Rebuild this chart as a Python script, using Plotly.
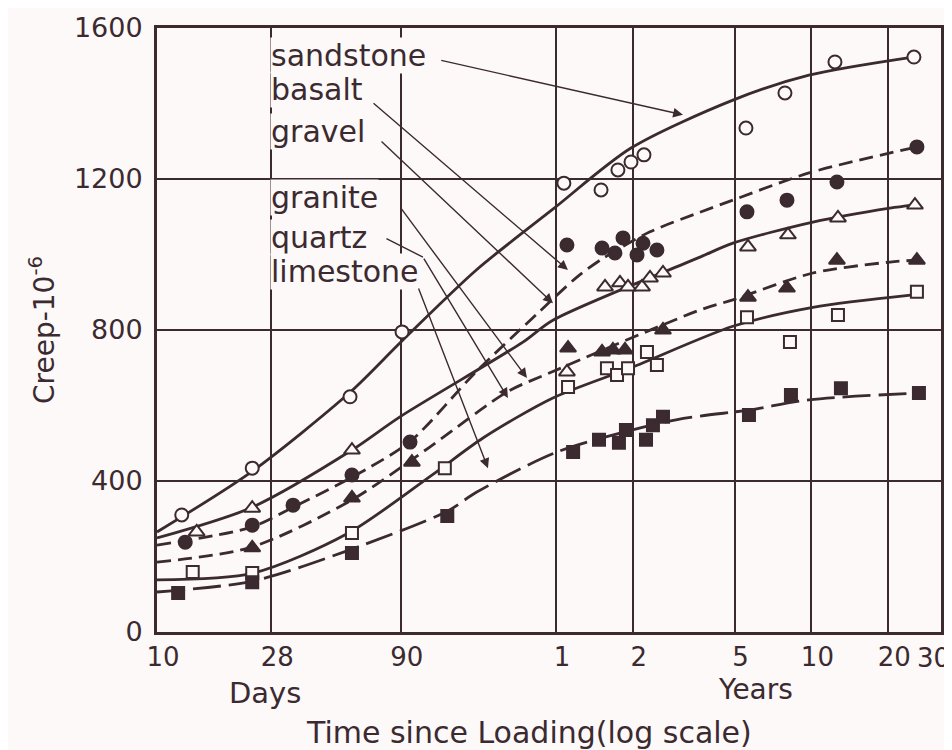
import math
import plotly.graph_objects as go

INK = "#3b2a30"
BG = "#fdf9f9"
FONT = "DejaVu Sans"

# ---------------- data (x = days since loading, y = creep x 10^-6) ----------------
sandstone_days = [12.5, 23.6, 57.0, 91.1, 392, 548, 638, 718, 807, 2024, 2877, 4516, 9204]
sandstone_creep = [310, 434, 623, 795, 1189, 1171, 1224, 1245, 1264, 1335, 1428, 1510, 1523]
sandstone_fit_days = [10, 23.5, 57, 91, 178, 355, 718, 1800, 3572, 9120]
sandstone_fit_creep = [265, 425, 635, 771, 959, 1120, 1282, 1409, 1475, 1523]

basalt_days = [12.9, 23.6, 34.1, 58.0, 97.9, 403, 553, 621, 668, 758, 800, 907, 2043, 2930, 4598, 9456]
basalt_creep = [238, 283, 336, 416, 503, 1025, 1017, 1004, 1044, 999, 1030, 1012, 1113, 1144, 1192, 1285]
basalt_fit_days = [10, 23.5, 34, 58, 98, 178, 316, 441, 558, 852, 1337, 1800, 3572, 9456]
basalt_fit_creep = [230, 278, 330, 410, 505, 690, 850, 940, 990, 1060, 1112, 1144, 1216, 1285]

gravel_days = [14.3, 23.6, 58.0, 403, 568, 650, 699, 793, 852, 958, 2061, 2956, 4640, 9290]
gravel_creep = [265, 328, 482, 689, 914, 925, 914, 914, 938, 951, 1020, 1052, 1097, 1131]
gravel_fit_days = [10, 23.5, 58, 89.4, 271, 355, 1337, 1800, 3703, 7413, 9120]
gravel_fit_creep = [249, 330, 482, 570, 768, 826, 993, 1030, 1086, 1123, 1131]

granite_days = [23.6, 58.0, 99.6, 407, 553, 610, 680, 958, 2061, 2930, 4598, 9456]
granite_creep = [223, 355, 450, 752, 742, 747, 747, 800, 887, 911, 985, 985]
granite_fit_days = [10, 23.5, 58, 117, 235, 355, 1337, 1800, 3703, 7413, 9456]
granite_fit_creep = [185, 225, 350, 490, 636, 690, 853, 880, 951, 980, 985]

quartz_days = [13.8, 23.6, 58.0, 134, 407, 578, 633, 699, 829, 907, 2043, 3010, 4640, 9456]
quartz_creep = [159, 156, 262, 434, 649, 699, 681, 699, 742, 707, 834, 768, 840, 901]
quartz_fit_days = [10, 23.8, 55.5, 120, 189, 355, 718, 1800, 3703, 9120]
quartz_fit_creep = [138, 156, 260, 417, 514, 620, 700, 810, 860, 893]

limestone_days = [12.1, 23.6, 58.0, 137, 426, 538, 644, 686, 822, 875, 958, 2080, 3037, 4766, 9629]
limestone_creep = [103, 132, 209, 307, 477, 509, 501, 535, 509, 548, 570, 575, 628, 646, 633]
limestone_fit_days = [10, 23.8, 55.5, 137, 178, 372, 1077, 2080, 3572, 9629]
limestone_fit_creep = [106, 135, 215, 320, 370, 478, 562, 588, 615, 633]

# tick labels
x_tick_days = [10, 28, 90, 365, 730, 1826, 3652, 7305]
x_tick_text = ["10", "28", "90", "1", "2", "5", "10", "20"]
x_edge_tick_days = 10957
x_edge_tick_text = "30"
y_tick_vals = [0, 400, 800, 1200, 1600]
y_tick_text = ["0", "400", "800", "1200", "1600"]

# curve labels and their leader arrows
label_names = ["sandstone", "basalt", "gravel", "granite", "quartz", "limestone"]
label_days = [27.7, 27.7, 27.7, 27.7, 27.7, 27.7]
label_creep = [1526, 1436, 1327, 1150, 1046, 954]
arrow_tail_days = [128, 69.5, 74.7, 89.4, 110, 105.2]
arrow_tail_creep = [1515, 1404, 1303, 1126, 993, 914]
arrow_head_days = [1147, 406.6, 355.2, 281, 236.7, 197.7]
arrow_head_creep = [1370, 959, 871, 673, 620, 434]
quartz_leader_days = [78.1, 110]
quartz_leader_creep = [1044, 993]

# ---------------- figure ----------------
series = [
    ("sandstone", sandstone_days, sandstone_creep, sandstone_fit_days, sandstone_fit_creep,
     "solid", "circle", BG, 13),
    ("basalt", basalt_days, basalt_creep, basalt_fit_days, basalt_fit_creep,
     "14px,7px", "circle", INK, 13),
    ("gravel", gravel_days, gravel_creep, gravel_fit_days, gravel_fit_creep,
     "solid", "triangle-up", BG, 14),
    ("granite", granite_days, granite_creep, granite_fit_days, granite_fit_creep,
     "14px,7px", "triangle-up", INK, 14),
    ("quartz", quartz_days, quartz_creep, quartz_fit_days, quartz_fit_creep,
     "solid", "square", BG, 12),
    ("limestone", limestone_days, limestone_creep, limestone_fit_days, limestone_fit_creep,
     "28px,8px", "square", INK, 12),
]

fig = go.Figure()
for name, d, c, fd, fc, dash, sym, fill, size in series:
    fig.add_trace(go.Scatter(
        x=fd, y=fc, mode="lines", name=name + " trend", showlegend=False,
        line=dict(color=INK, width=2.8, dash=dash, shape="spline", smoothing=0.8),
        hoverinfo="skip",
    ))
for name, d, c, fd, fc, dash, sym, fill, size in series:
    fig.add_trace(go.Scatter(
        x=d, y=c, mode="markers", name=name, showlegend=False,
        marker=dict(symbol=sym, size=size, color=fill, line=dict(color=INK, width=2)),
    ))

annotations = []
for name, ld, lc in zip(label_names, label_days, label_creep):
    annotations.append(dict(
        x=math.log10(ld), y=lc, xref="x", yref="y", text=name, showarrow=False,
        xanchor="left", yanchor="middle", bgcolor=BG, borderpad=0,
        font=dict(family=FONT, size=30, color=INK),
    ))
for td, tc, hd, hc in zip(arrow_tail_days, arrow_tail_creep, arrow_head_days, arrow_head_creep):
    annotations.append(dict(
        x=math.log10(hd), y=hc, ax=math.log10(td), ay=tc, xref="x", yref="y",
        axref="x", ayref="y", text="", showarrow=True, arrowhead=2, arrowsize=1.4,
        arrowwidth=1.4, arrowcolor=INK, standoff=0, startstandoff=0,
    ))
annotations.append(dict(
    x=math.log10(quartz_leader_days[1]), y=quartz_leader_creep[1],
    ax=math.log10(quartz_leader_days[0]), ay=quartz_leader_creep[0],
    xref="x", yref="y", axref="x", ayref="y", text="", showarrow=True,
    arrowhead=0, arrowwidth=1.4, arrowcolor=INK, standoff=0,
))
annotations.append(dict(
    x=math.log10(x_edge_tick_days), y=0, xref="x", yref="paper",
    xanchor="center", yanchor="top", yshift=-9, xshift=0,
    text=x_edge_tick_text, showarrow=False,
    font=dict(family=FONT, size=26, color=INK),
))
annotations.append(dict(x=0.1378, y=-0.101, xref="paper", yref="paper", text="Days",
                        xanchor="center", yanchor="middle", showarrow=False,
                        font=dict(family=FONT, size=29, color=INK)))
annotations.append(dict(x=0.7628, y=-0.095, xref="paper", yref="paper", text="Years",
                        xanchor="center", yanchor="middle", showarrow=False,
                        font=dict(family=FONT, size=28, color=INK)))
annotations.append(dict(x=0.4745, y=-0.167, xref="paper", yref="paper",
                        text="Time since Loading(log scale)",
                        xanchor="center", yanchor="middle",
                        showarrow=False, font=dict(family=FONT, size=30, color=INK)))

# the page body adds an 8px offset, so the margins are shifted to keep the plot
# area at the reference position (x 157..941, y 28..632 in the window)
fig.update_layout(
    width=952, height=750,
    margin=dict(l=149, r=19, t=20, b=126, autoexpand=False),
    paper_bgcolor=BG, plot_bgcolor=BG,
    font=dict(family=FONT, color=INK, size=26),
    showlegend=False,
    annotations=annotations,
    xaxis=dict(
        type="log", range=[1, 4.07], tickmode="array",
        tickvals=x_tick_days, ticktext=x_tick_text, ticks="",
        ticklabelstandoff=0, ticklabelshift=6,
        tickfont=dict(family=FONT, size=26, color=INK),
        showgrid=True, gridcolor=INK, gridwidth=1.6,
        showline=True, linecolor=INK, linewidth=3, mirror=True,
        zeroline=False, automargin=False,
    ),
    yaxis=dict(
        range=[0, 1600], tickmode="array", tickvals=y_tick_vals, ticktext=y_tick_text,
        ticks="", ticklabelstandoff=6,
        tickfont=dict(family=FONT, size=27, color=INK),
        showgrid=True, gridcolor=INK, gridwidth=1.6,
        showline=True, linecolor=INK, linewidth=3, mirror=True,
        zeroline=False, automargin=False,
        title=dict(text="Creep-10<sup>-6</sup>", standoff=12,
                   font=dict(family=FONT, size=28, color=INK)),
    ),
)

fig.write_html("out.html")
